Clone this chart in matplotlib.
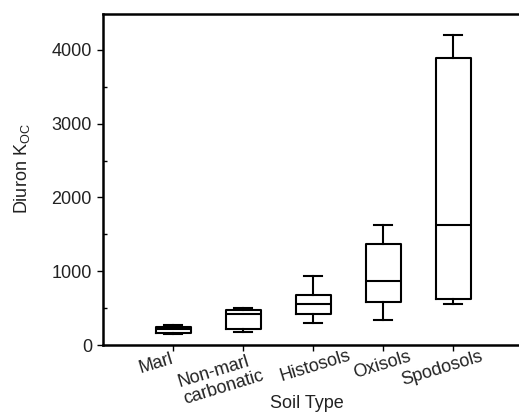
import numpy as np
import matplotlib
matplotlib.use("Agg")
import matplotlib.pyplot as plt
import matplotlib.transforms as mtransforms
from matplotlib.ticker import MultipleLocator

plt.rcParams['font.family'] = ['Liberation Sans', 'DejaVu Sans']
plt.rcParams['mathtext.fontset'] = 'custom'
plt.rcParams['mathtext.rm'] = 'Liberation Sans'

# Box statistics (Diuron Koc by soil type)
soil_types = ["Marl", "Non-marl\ncarbonatic", "Histosols", "Oxisols", "Spodosols"]
whisker_low = [149, 176, 294, 335, 556]
q1 = [160, 221, 416, 587, 624]
median = [213, 420, 556, 872, 1627]
q3 = [250, 475, 678, 1365, 3887]
whisker_high = [271, 502, 940, 1627, 4203]

stats = []
for i in range(len(soil_types)):
    stats.append({
        "whislo": whisker_low[i], "q1": q1[i], "med": median[i],
        "q3": q3[i], "whishi": whisker_high[i], "fliers": [],
    })

DPI = 100
fig = plt.figure(figsize=(5.19, 4.15), dpi=DPI)
ax = fig.add_axes([103 / 519, 1 - 345 / 415, 420 / 519, (345 - 14) / 415])

line = dict(color="black", linewidth=1.5)
positions = np.arange(1, len(soil_types) + 1)
ax.bxp(stats, positions=positions, widths=0.5, showfliers=False,
       boxprops=line, medianprops=line, whiskerprops=line,
       capprops=line, capwidths=0.25)

ax.set_xlim(0, 6)
ax.set_ylim(0, 4488)
ax.yaxis.set_major_locator(MultipleLocator(1000))
ax.yaxis.set_minor_locator(MultipleLocator(500))

ax.spines["right"].set_visible(False)
for s in ["left", "bottom", "top"]:
    ax.spines[s].set_linewidth(1.8)

txt = "#222222"
ax.tick_params(axis="y", which="major", direction="out", length=4, width=1,
               labelsize=13, pad=4, labelcolor=txt)
ax.tick_params(axis="y", which="minor", direction="in", length=3, width=1)
ax.tick_params(axis="x", which="major", direction="out", length=4, width=1, pad=0)

ax.set_xticks(positions)
ax.set_xticklabels(soil_types, rotation=17, ha="center", fontsize=13,
                   linespacing=1.05, color=txt, multialignment="left")

# nudge the slanted labels sideways as in the original layout (pixels)
nudge = [(-17, 0), (-22, 0), (2, 3), (-1, 2), (-11, 2)]
for lab, (dx, dy) in zip(ax.get_xticklabels(), nudge):
    off = mtransforms.ScaledTranslation(dx / DPI, dy / DPI, fig.dpi_scale_trans)
    lab.set_transform(lab.get_transform() + off)

ax.set_xlabel("Soil Type", fontsize=13, color=txt)
ax.xaxis.set_label_coords((307 - 103) / 420, (345 - 395) / 331)
ax.set_ylabel("Diuron K$_{\\mathrm{OC}}$", fontsize=13, color=txt)
ax.yaxis.set_label_coords((32 - 103) / 420, (345 - 169) / 331)

fig.savefig("out.png", dpi=DPI)
